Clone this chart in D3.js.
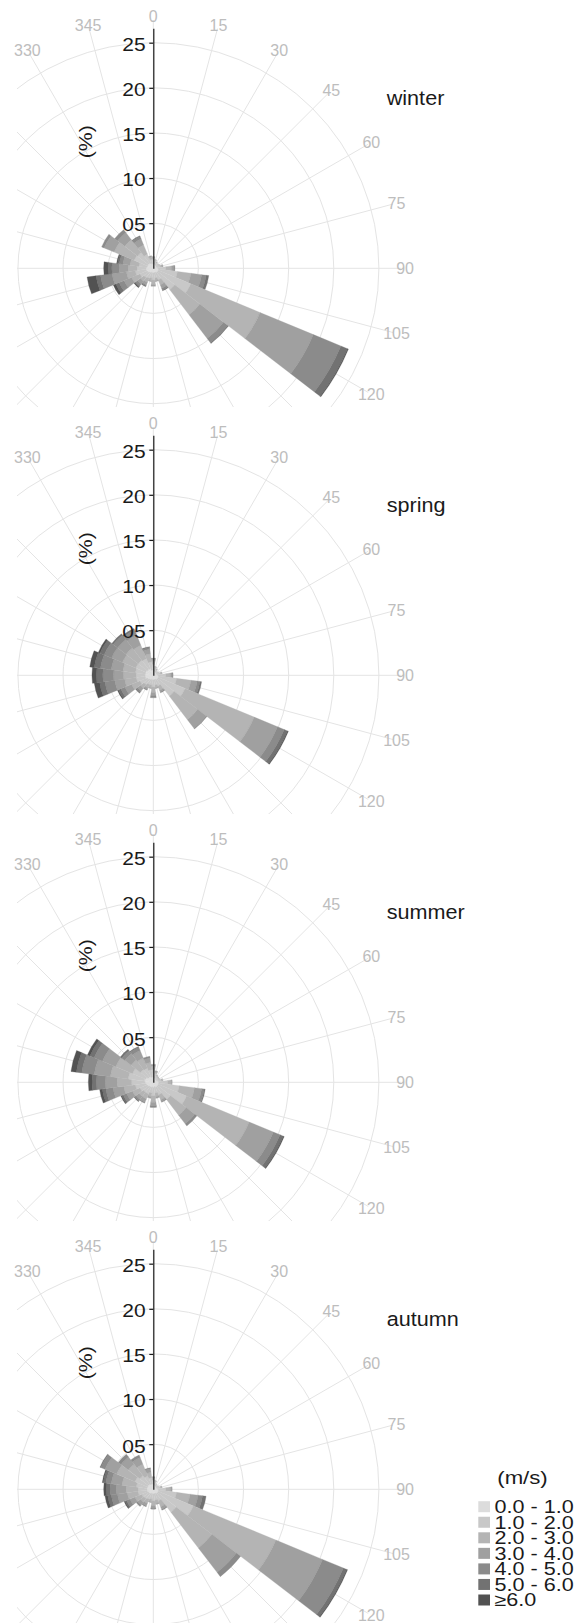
<!DOCTYPE html>
<html>
<head>
<meta charset="utf-8">
<script src="https://cdn.jsdelivr.net/npm/d3@7"></script>
<style>
  html, body { margin: 0; padding: 0; background: #ffffff; }
  svg { display: block; }
  text { font-family: "Liberation Sans", Arial, sans-serif; }
</style>
</head>
<body>
<svg id="chart" width="575" height="1623"></svg>
<script>
// Wind direction sectors (degrees, clockwise from north)
const directions = [0, 15, 30, 45, 60, 75, 90, 105, 120, 135, 150, 165,
                    180, 195, 210, 225, 240, 255, 270, 285, 300, 315, 330, 345];

// Wind speed classes (m/s) and their fills, light to dark
const speedClasses = ["0.0 - 1.0", "1.0 - 2.0", "2.0 - 3.0", "3.0 - 4.0",
                      "4.0 - 5.0", "5.0 - 6.0", "\u22656.0"];
const classColors = ["#dcdcdc", "#c8c8c8", "#b4b4b4", "#a0a0a0",
                     "#8b8b8b", "#727272", "#525252"];

const seasons = ["winter", "spring", "summer", "autumn"];

// Frequency (%) per direction, one row per sector, one column per speed class
const winterFreq = [
  [0.5, 0.5, 0.2, 0.1, 0.0, 0.0, 0.0],
  [0.5, 0.4, 0.1, 0.0, 0.0, 0.0, 0.0],
  [0.4, 0.3, 0.1, 0.0, 0.0, 0.0, 0.0],
  [0.4, 0.3, 0.0, 0.0, 0.0, 0.0, 0.0],
  [0.4, 0.3, 0.1, 0.0, 0.0, 0.0, 0.0],
  [0.4, 0.4, 0.2, 0.1, 0.0, 0.0, 0.0],
  [0.5, 0.9, 0.6, 0.3, 0.1, 0.0, 0.0],
  [0.6, 2.1, 1.5, 1.2, 0.5, 0.3, 0.0],
  [0.6, 3.9, 8.3, 6.4, 3.3, 0.8, 0.1],
  [0.6, 2.4, 3.5, 3.3, 0.6, 0.1, 0.0],
  [0.5, 0.9, 0.6, 0.4, 0.2, 0.1, 0.0],
  [0.5, 0.6, 0.3, 0.1, 0.0, 0.0, 0.0],
  [0.5, 0.8, 0.5, 0.2, 0.0, 0.0, 0.0],
  [0.5, 0.6, 0.3, 0.1, 0.0, 0.0, 0.0],
  [0.5, 0.7, 0.5, 0.3, 0.1, 0.1, 0.0],
  [0.6, 0.7, 0.5, 0.4, 0.3, 0.1, 0.1],
  [0.7, 0.9, 1.0, 0.9, 0.6, 0.4, 0.3],
  [0.8, 1.2, 1.0, 1.6, 1.3, 0.5, 1.0],
  [0.8, 1.0, 1.0, 1.0, 0.8, 0.4, 0.5],
  [0.7, 0.9, 1.0, 0.8, 0.4, 0.2, 0.1],
  [0.7, 1.6, 2.4, 1.2, 0.3, 0.0, 0.0],
  [0.7, 1.5, 1.8, 1.0, 0.4, 0.0, 0.0],
  [0.6, 1.1, 1.1, 0.7, 0.3, 0.1, 0.0],
  [0.5, 0.5, 0.3, 0.1, 0.0, 0.0, 0.0]
];

const springFreq = [
  [0.6, 0.6, 0.4, 0.2, 0.1, 0.0, 0.0],
  [0.5, 0.4, 0.1, 0.0, 0.0, 0.0, 0.0],
  [0.4, 0.3, 0.1, 0.0, 0.0, 0.0, 0.0],
  [0.4, 0.2, 0.0, 0.0, 0.0, 0.0, 0.0],
  [0.4, 0.3, 0.0, 0.0, 0.0, 0.0, 0.0],
  [0.4, 0.4, 0.2, 0.0, 0.0, 0.0, 0.0],
  [0.5, 0.9, 0.5, 0.2, 0.1, 0.0, 0.0],
  [0.6, 2.0, 1.6, 0.7, 0.3, 0.2, 0.0],
  [0.6, 3.2, 8.3, 2.8, 0.8, 0.4, 0.1],
  [0.6, 2.3, 3.3, 1.2, 0.1, 0.0, 0.0],
  [0.5, 0.8, 0.5, 0.2, 0.1, 0.0, 0.0],
  [0.5, 0.6, 0.3, 0.1, 0.0, 0.0, 0.0],
  [0.5, 0.8, 0.6, 0.4, 0.2, 0.0, 0.0],
  [0.5, 0.6, 0.3, 0.1, 0.0, 0.0, 0.0],
  [0.5, 0.6, 0.4, 0.2, 0.1, 0.0, 0.0],
  [0.6, 0.7, 0.5, 0.4, 0.2, 0.1, 0.0],
  [0.7, 0.9, 1.0, 0.8, 0.5, 0.3, 0.1],
  [0.9, 1.0, 1.3, 1.1, 1.1, 0.6, 0.6],
  [0.9, 1.0, 1.4, 1.1, 1.2, 0.7, 0.5],
  [0.9, 1.1, 1.4, 1.3, 1.2, 0.7, 0.5],
  [0.9, 1.2, 1.6, 1.3, 0.9, 0.5, 0.2],
  [0.8, 1.3, 1.7, 1.2, 0.6, 0.2, 0.0],
  [0.8, 1.2, 1.6, 1.2, 0.6, 0.2, 0.0],
  [0.6, 0.9, 0.9, 0.5, 0.2, 0.1, 0.0]
];

const summerFreq = [
  [0.6, 0.8, 0.4, 0.2, 0.0, 0.0, 0.0],
  [0.5, 0.5, 0.2, 0.1, 0.0, 0.0, 0.0],
  [0.5, 0.3, 0.1, 0.0, 0.0, 0.0, 0.0],
  [0.4, 0.3, 0.1, 0.0, 0.0, 0.0, 0.0],
  [0.4, 0.3, 0.1, 0.0, 0.0, 0.0, 0.0],
  [0.5, 0.4, 0.2, 0.0, 0.0, 0.0, 0.0],
  [0.6, 1.0, 0.4, 0.1, 0.0, 0.0, 0.0],
  [0.6, 2.3, 1.7, 0.8, 0.3, 0.1, 0.0],
  [0.6, 3.4, 7.5, 2.9, 0.8, 0.4, 0.1],
  [0.6, 1.8, 2.2, 1.2, 0.3, 0.0, 0.0],
  [0.6, 0.9, 0.6, 0.2, 0.1, 0.0, 0.0],
  [0.5, 0.7, 0.4, 0.2, 0.0, 0.0, 0.0],
  [0.6, 0.9, 0.7, 0.4, 0.2, 0.0, 0.0],
  [0.5, 0.7, 0.4, 0.2, 0.0, 0.0, 0.0],
  [0.6, 0.8, 0.6, 0.4, 0.1, 0.0, 0.0],
  [0.6, 0.8, 0.6, 0.4, 0.2, 0.1, 0.0],
  [0.7, 0.9, 0.9, 0.7, 0.4, 0.2, 0.1],
  [0.8, 1.2, 1.3, 1.2, 0.8, 0.4, 0.3],
  [0.9, 1.5, 1.6, 1.3, 1.0, 0.5, 0.4],
  [1.0, 1.8, 2.0, 1.8, 1.4, 0.6, 0.6],
  [0.9, 1.6, 2.0, 1.6, 1.0, 0.5, 0.3],
  [0.7, 1.1, 1.3, 0.9, 0.4, 0.2, 0.0],
  [0.7, 1.0, 1.2, 0.9, 0.4, 0.1, 0.0],
  [0.6, 0.8, 0.8, 0.5, 0.2, 0.0, 0.0]
];

const autumnFreq = [
  [0.5, 0.5, 0.3, 0.1, 0.0, 0.0, 0.0],
  [0.5, 0.4, 0.1, 0.0, 0.0, 0.0, 0.0],
  [0.4, 0.3, 0.0, 0.0, 0.0, 0.0, 0.0],
  [0.4, 0.2, 0.0, 0.0, 0.0, 0.0, 0.0],
  [0.4, 0.3, 0.0, 0.0, 0.0, 0.0, 0.0],
  [0.4, 0.4, 0.2, 0.0, 0.0, 0.0, 0.0],
  [0.5, 0.9, 0.5, 0.2, 0.0, 0.0, 0.0],
  [0.6, 2.0, 1.5, 0.9, 0.5, 0.4, 0.0],
  [0.6, 4.2, 9.9, 5.6, 2.5, 0.4, 0.1],
  [0.6, 2.6, 5.0, 3.4, 0.6, 0.0, 0.0],
  [0.5, 0.9, 0.7, 0.3, 0.1, 0.0, 0.0],
  [0.5, 0.7, 0.4, 0.1, 0.0, 0.0, 0.0],
  [0.5, 0.8, 0.5, 0.3, 0.1, 0.0, 0.0],
  [0.5, 0.6, 0.3, 0.1, 0.0, 0.0, 0.0],
  [0.5, 0.7, 0.5, 0.3, 0.1, 0.0, 0.0],
  [0.6, 0.7, 0.5, 0.4, 0.2, 0.0, 0.0],
  [0.6, 0.8, 0.8, 0.6, 0.4, 0.2, 0.1],
  [0.7, 1.0, 1.2, 1.1, 0.7, 0.4, 0.3],
  [0.7, 1.0, 1.3, 1.1, 0.7, 0.4, 0.3],
  [0.7, 1.2, 1.6, 1.2, 0.6, 0.3, 0.1],
  [0.7, 1.5, 2.2, 1.4, 0.5, 0.1, 0.0],
  [0.7, 1.2, 1.6, 1.0, 0.4, 0.0, 0.0],
  [0.6, 1.0, 1.4, 0.8, 0.3, 0.0, 0.0],
  [0.6, 0.7, 0.6, 0.4, 0.1, 0.0, 0.0]
];

const seasonFreq = [winterFreq, springFreq, summerFreq, autumnFreq];

// Radial axis
const radialTicks = [5, 10, 15, 20, 25];
const axisMax = 26.6;
const gridCircles = [5, 10, 15, 20, 25];

// ---------- layout ----------
const W = 575, H = 1623;
const cx = 153.3;
const firstCy = 268.3;
const panelStep = 407;
const panelTop = 268.3;      // distance from centre up to panel top
const panelHeight = 407;
const gridLeft = 17;
const sectorHalf = 7.5;      // half sector width, degrees

const rScale = d3.scaleLinear().domain([0, 25]).range([0, 225.6]);
const rad = d => d * Math.PI / 180;
const labelR = rScale(27.9);

const svg = d3.select("#chart");
const defs = svg.append("defs");

seasons.forEach((season, i) => {
  const cy = firstCy + i * panelStep;
  const top = cy - panelTop;

  defs.append("clipPath").attr("id", "grid-clip-" + i)
    .append("rect").attr("x", gridLeft).attr("y", top)
    .attr("width", W - gridLeft).attr("height", panelHeight);

  const grid = svg.append("g").attr("clip-path", `url(#grid-clip-${i})`)
    .append("g").attr("transform", `translate(${cx},${cy})`);

  // concentric circles
  grid.selectAll("circle").data(gridCircles).join("circle")
    .attr("r", d => rScale(d))
    .attr("fill", "none").attr("stroke", "#e4e4e4").attr("stroke-width", 1);

  // spokes
  grid.selectAll("line").data(directions).join("line")
    .attr("x1", 0).attr("y1", 0)
    .attr("x2", d => Math.sin(rad(d)) * rScale(27.5))
    .attr("y2", d => -Math.cos(rad(d)) * rScale(27.5))
    .attr("stroke", "#e4e4e4").attr("stroke-width", 1);

  // direction labels: only those that fall inside this panel's frame
  const visibleDirs = directions.filter(d => {
    const x = cx + Math.sin(rad(d)) * labelR;
    const y = cy - Math.cos(rad(d)) * labelR;
    return x > 10 && y > top + 6 && y < top + panelHeight - 6;
  });
  const labels = svg.append("g").attr("transform", `translate(${cx},${cy})`);
  labels.selectAll("text").data(visibleDirs).join("text")
    .attr("x", d => Math.sin(rad(d)) * labelR)
    .attr("y", d => -Math.cos(rad(d)) * labelR)
    .attr("text-anchor", "middle")
    .attr("dominant-baseline", "central")
    .attr("font-size", 16)
    .attr("fill", "#bdbdbd")
    .text(d => d);

  // stacked sectors
  const freq = seasonFreq[i];
  const segments = [];
  directions.forEach((dir, k) => {
    let cum = 0;
    freq[k].forEach((v, c) => {
      if (v > 0) segments.push({ dir, c, r0: cum, r1: cum + v });
      cum += v;
    });
  });
  const arc = d3.arc()
    .innerRadius(d => rScale(d.r0))
    .outerRadius(d => rScale(d.r1))
    .startAngle(d => rad(d.dir - sectorHalf))
    .endAngle(d => rad(d.dir + sectorHalf));
  const bars = svg.append("g").attr("transform", `translate(${cx},${cy})`);
  bars.selectAll("path").data(segments).join("path")
    .attr("d", arc)
    .attr("fill", d => classColors[d.c])
    .attr("stroke", d => classColors[d.c])
    .attr("stroke-width", 0.3);

  // radial value axis along north
  const yScale = d3.scaleLinear().domain([0, axisMax]).range([cy, cy - rScale(axisMax)]);
  const axis = d3.axisLeft(yScale)
    .tickValues(radialTicks)
    .tickSize(4)
    .tickSizeOuter(0)
    .tickPadding(3)
    .tickFormat(d3.format("02d"));
  const ag = svg.append("g").attr("transform", `translate(${cx},0)`).call(axis);
  ag.select(".domain").attr("stroke", "#1a1a1a").attr("stroke-width", 1.2);
  ag.selectAll(".tick line").attr("stroke", "#1a1a1a").attr("stroke-width", 1.2);
  ag.selectAll(".tick text")
    .attr("font-family", "Liberation Sans, Arial, sans-serif")
    .attr("font-size", 18.6)
    .attr("fill", "#1a1a1a")
    .attr("x", -6.8)
    .attr("dy", "0.42em")
    .attr("transform", "scale(1.13,1)");

  svg.append("text")
    .attr("transform", `translate(${cx - 68.3},${cy - 126.6}) rotate(-90) scale(1.12,1)`)
    .attr("text-anchor", "middle")
    .attr("dominant-baseline", "central")
    .attr("font-size", 19)
    .attr("fill", "#1a1a1a")
    .text("(%)");

  // season name
  svg.append("text")
    .attr("transform", `translate(386.7,${cy - 163.3}) scale(1.12,1)`)
    .attr("font-size", 19.3)
    .attr("fill", "#1a1a1a")
    .text(season);
});

// ---------- legend ----------
const legend = svg.append("g");
legend.append("text")
  .attr("transform", "translate(522.5,1478) scale(1.2,1)")
  .attr("text-anchor", "middle")
  .attr("dominant-baseline", "central")
  .attr("font-size", 18.5)
  .attr("fill", "#1a1a1a")
  .text("(m/s)");

const rowY = d3.scaleLinear().domain([0, speedClasses.length - 1]).range([1506.7, 1600]);
const rows = legend.selectAll("g.row").data(speedClasses).join("g")
  .attr("class", "row")
  .attr("transform", (d, k) => `translate(0,${rowY(k)})`);
rows.append("rect")
  .attr("x", 478.3).attr("y", -5.5)
  .attr("width", 11.7).attr("height", 11)
  .attr("fill", (d, k) => classColors[k]);
rows.append("text")
  .attr("transform", "translate(494.5,0) scale(1.22,1)")
  .attr("dominant-baseline", "central")
  .attr("font-size", 17.7)
  .attr("fill", "#1a1a1a")
  .text(d => d);
</script>
</body>
</html>
